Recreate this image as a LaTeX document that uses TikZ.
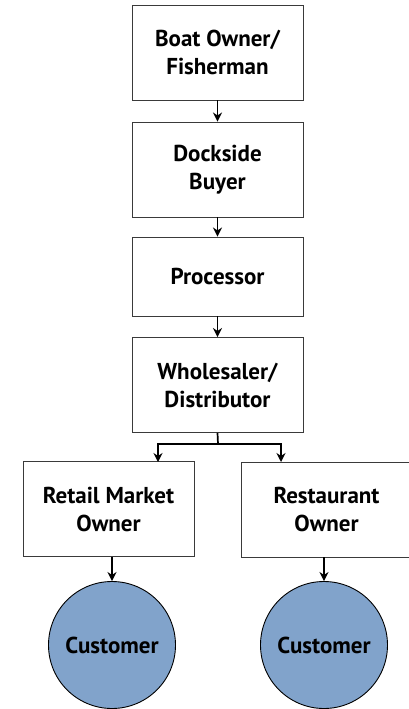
\documentclass[tikz,border=0pt]{standalone}
\usepackage{fontspec}
\setmainfont{PT Sans}
\usetikzlibrary{arrows.meta}
\definecolor{edge}{HTML}{3A3A3A}
\definecolor{disc}{HTML}{81A3CB}
\tikzset{
  box/.style={draw=edge, line width=0.9pt, fill=white, minimum width=171pt, minimum height=95pt, inner sep=0pt, align=center, font=\fontsize{23}{28}\selectfont\bfseries},
  cust/.style={circle, draw=black, line width=0.9pt, fill=disc, minimum size=127pt, inner sep=0pt, font=\fontsize{23}{28}\selectfont\bfseries},
  link/.style={draw=black, line width=1.7pt},
  flow/.style={link, -{Stealth[length=9pt,width=9pt]}}
}
\begin{document}
\begin{tikzpicture}[x=1pt,y=-1pt]
  \useasboundingbox (0,0) rectangle (408,709);

  \node[box] (owner) at (217.5,52.5) {Boat Owner/\\Fisherman};
  \node[box] (buyer) at (217.5,169.5) {Dockside\\Buyer};
  \node[box, minimum height=79pt] (proc) at (217.5,276.5) {Processor};
  \node[box] (whole) at (217.5,385) {Wholesaler/\\Distributor};
  \node[box] (retail) at (108.5,509) {Retail Market\\Owner};
  \node[box] (resto) at (326.5,509.5) {Restaurant\\Owner};
  \node[cust] (custA) at (112,645) {Customer};
  \node[cust] (custB) at (324,645) {Customer};

  \coordinate (split) at (218,444);
  \coordinate (rin) at (158,462);
  \coordinate (sin) at (281,462);

  \draw[flow] (owner) -- (buyer);
  \draw[flow] (buyer) -- (proc);
  \draw[flow] (proc) -- (whole);
  \draw[link] (whole.south) -- (split);
  \draw[flow] (split) -| (rin);
  \draw[flow] (split) -| (sin);
  \draw[flow] (retail.south -| custA) -- (custA);
  \draw[flow] (resto.south -| custB) -- (custB);
\end{tikzpicture}
\end{document}
